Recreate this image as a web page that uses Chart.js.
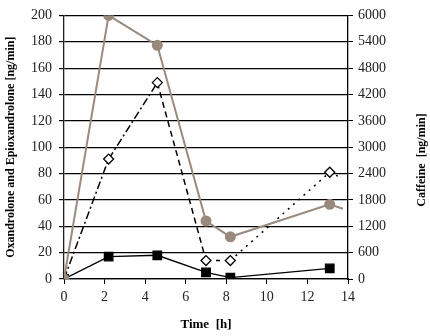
<!DOCTYPE html>
<html>
<head>
<meta charset="utf-8">
<script src="https://cdn.jsdelivr.net/npm/chart.js@4"></script>
<style>
  html, body { margin: 0; padding: 0; background: #fff; }
  #wrap { width: 430px; height: 336px; }
</style>
</head>
<body>
<div id="wrap"><canvas id="chart" width="430" height="336"></canvas></div>
<script>
// Data
const caffeineTime = [0, 2.2, 4.6, 7.0, 8.2, 13.1, 13.75];
const caffeine = [0, 6000, 5320, 1320, 960, 1700, 1600];
const epiTime = [0, 2.2, 4.6, 7.0, 8.2, 13.1, 13.5];
const epi = [0, 91, 149, 14, 14, 81, 78];
const oxaTime = [0, 2.2, 4.6, 7.0, 8.2, 13.1];
const oxa = [0, 17, 18, 5, 1, 8];
const xTicks = [0, 2, 4, 6, 8, 10, 12, 14];

const brown = '#9a8a7c';
const serif = "'Liberation Serif', 'DejaVu Serif', serif";

function pts(xs, ys) {
    return xs.map((x, i) => ({ x: x, y: ys[i] }));
}

// dash style changes along the diamond series
function epiDash(ctx) {
    const i = ctx.p0DataIndex;
    if (i < 2) return [8, 3, 2, 3];
    if (i === 2) return [6, 4];
    if (i === 3) return [4, 6];
    return [2, 5];
}

// right axis title reads bottom-to-top, like the left one
const rightTitle = {
    id: 'rightTitle',
    afterDraw(chart) {
        const c = chart.ctx;
        c.save();
        c.translate(422, 160);
        c.rotate(-Math.PI / 2);
        c.font = 'bold 12px ' + serif;
        c.fillStyle = '#000';
        c.textAlign = 'center';
        c.textBaseline = 'middle';
        c.fillText('Caffeine  [ng/min]', 0, 0);
        c.restore();
    }
};

const ctx = document.getElementById('chart').getContext('2d');
new Chart(ctx, {
    type: 'line',
    data: {
        datasets: [{
            label: 'Oxandrolone',
            data: pts(oxaTime, oxa),
            borderColor: '#000',
            backgroundColor: '#000',
            borderWidth: 1.3,
            pointStyle: 'rect',
            pointRadius: 6,
            yAxisID: 'y',
            order: 1
        }, {
            label: 'Epioxandrolone',
            data: pts(epiTime, epi),
            borderColor: '#000',
            backgroundColor: '#fff',
            borderWidth: 1.5,
            pointStyle: 'rectRot',
            pointRadius: epiTime.map((t, i) => i === epiTime.length - 1 ? 0 : 5),
            pointBorderWidth: 1.3,
            segment: { borderDash: epiDash },
            yAxisID: 'y',
            order: 2
        }, {
            label: 'Caffeine',
            data: pts(caffeineTime, caffeine),
            borderColor: brown,
            backgroundColor: brown,
            borderWidth: 2,
            pointStyle: 'circle',
            pointRadius: caffeineTime.map((t, i) => i === caffeineTime.length - 1 ? 0 : 4.5),
            yAxisID: 'y1',
            order: 0
        }]
    },
    options: {
        responsive: false,
        animation: false,
        layout: { padding: { top: 11, left: 0, right: 0, bottom: 0 } },
        plugins: {
            legend: { display: false },
            tooltip: { enabled: false }
        },
        scales: {
            x: {
                type: 'linear',
                min: 0,
                max: 14,
                afterBuildTicks: s => { s.ticks = xTicks.map(v => ({ value: v })); },
                afterFit: s => { s.height = 57; },
                grid: { drawOnChartArea: false, drawTicks: true, tickLength: 5, color: '#000' },
                border: { color: '#000', width: 1.3 },
                ticks: { color: '#222', font: { family: serif, size: 14 }, padding: 5 },
                title: {
                    display: true,
                    text: 'Time  [h]',
                    color: '#000',
                    font: { family: serif, size: 13, weight: 'bold' },
                    padding: { top: 8 }
                }
            },
            y: {
                position: 'left',
                min: 0,
                max: 200,
                ticks: { stepSize: 20, color: '#222', font: { family: serif, size: 14 }, padding: 7 },
                afterFit: s => { s.width = 64; },
                grid: { color: '#000', lineWidth: 1.2, tickLength: 5 },
                border: { color: '#2a1a10', width: 1.3 },
                title: {
                    display: true,
                    text: 'Oxandrolone and Epioxandrolone [ng/min]',
                    color: '#000',
                    font: { family: serif, size: 12, weight: 'bold' },
                    padding: { bottom: 2 }
                }
            },
            y1: {
                position: 'right',
                min: 0,
                max: 6000,
                ticks: {
                    stepSize: 600,
                    color: '#222',
                    font: { family: serif, size: 14 },
                    padding: 5,
                    callback: v => String(v)
                },
                afterFit: s => { s.width = 82; },
                grid: { drawOnChartArea: false, color: '#000', tickLength: 5 },
                border: { color: '#000', width: 1.3 }
            }
        }
    },
    plugins: [rightTitle]
});
</script>
</body>
</html>
